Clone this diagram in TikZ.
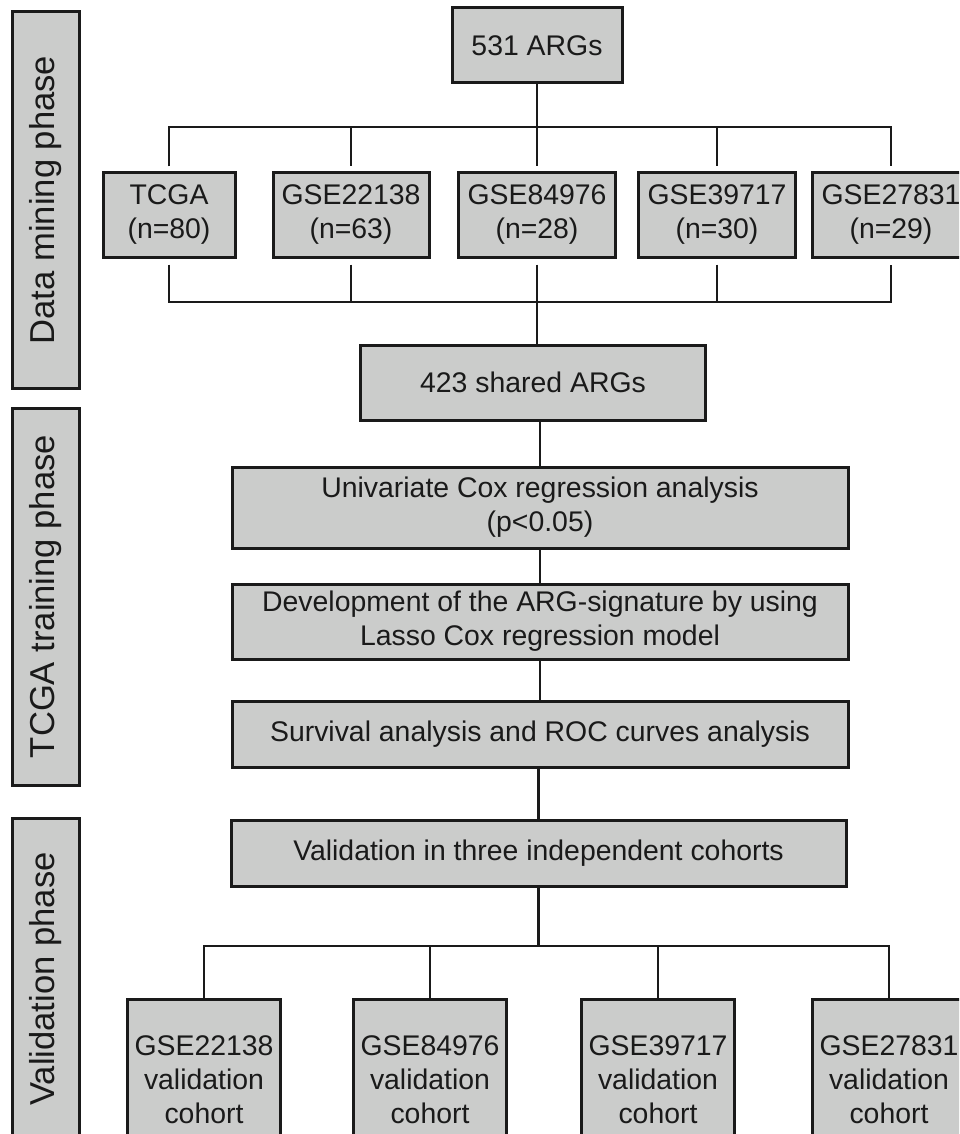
\documentclass[tikz,border=0pt]{standalone}
\usepackage{fontspec}
\setmainfont{Liberation Sans}
\definecolor{boxgray}{RGB}{203,204,203}
\definecolor{inkgray}{RGB}{26,26,26}

\begin{document}
\begin{tikzpicture}[x=0.5pt,y=-0.5pt,
    box/.style={draw=inkgray, line width=1.5pt, fill=boxgray, text=inkgray,
      align=center, inner sep=0pt, font=\fontsize{14.2}{17}\selectfont},
    phasebar/.style={draw=inkgray, line width=1.5pt, fill=boxgray, text=inkgray,
      rotate=90, inner sep=0pt, minimum height=33.5pt, font=\fontsize{17.3}{20}\selectfont},
    link/.style={draw=inkgray, line width=1.2pt}]
    \useasboundingbox (0,0) rectangle (959,1134);
    \clip (0,0) rectangle (959,1134);

    % phase bars on the left
    \node[phasebar, minimum width=188pt] (mining) at (45.5,200) {Data mining phase};
    \node[phasebar, minimum width=188.5pt] (training) at (45.5,596.5) {TCGA training phase};
    \node[phasebar, minimum width=161pt] (validating) at (45.5,979) {Validation phase};

    % data mining phase
    \node[box, minimum width=85pt, minimum height=37.5pt] (n531) at (537,45.5) {531 ARGs};
    \node[box, minimum width=66pt, minimum height=42pt] (tcga) at (169,215) {TCGA\\(n=80)};
    \node[box, minimum width=78pt, minimum height=42pt] (g22138) at (351,215) {GSE22138\\(n=63)};
    \node[box, minimum width=78.5pt, minimum height=42pt] (g84976) at (537,215) {GSE84976\\(n=28)};
    \node[box, minimum width=78.5pt, minimum height=42pt] (g39717) at (717,215) {GSE39717\\(n=30)};
    \node[box, minimum width=78.5pt, minimum height=42pt] (g27831) at (891,215) {GSE27831\\(n=29)};
    \node[box, minimum width=172.5pt, minimum height=37.5pt] (n423) at (533,382.5) {423 shared ARGs};

    \coordinate (topbus) at (0,127);
    \coordinate (midbus) at (0,302);
    \draw[link] (n531) -- (n531 |- topbus);
    \draw[link, shorten <=2.5pt, shorten >=2.5pt] (tcga.north) -- (tcga |- topbus)
      -- (g27831 |- topbus) -- (g27831.north);
    \foreach \n in {g22138,g84976,g39717}
      \draw[link, shorten >=2.5pt] (\n |- topbus) -- (\n.north);
    \draw[link, shorten <=3pt, shorten >=3pt] (tcga.south) -- (tcga |- midbus)
      -- (g27831 |- midbus) -- (g27831.south);
    \foreach \n in {g22138,g39717}
      \draw[link, shorten <=3pt] (\n.south) -- (\n |- midbus);
    \draw[link, shorten <=3pt] (g84976.south) -- (g84976.south |- n423.north);

    % TCGA training phase
    \node[box, minimum width=308pt, minimum height=40.5pt] (unicox) at (540,507.5)
      {Univariate Cox regression analysis\\(p<0.05)};
    \node[box, minimum width=308pt, minimum height=37.5pt] (lasso) at (540,621.5)
      {Development of the ARG-signature by using\\Lasso Cox regression model};
    \node[box, minimum width=308pt, minimum height=33pt] (survival) at (540,734.5)
      {Survival analysis and ROC curves analysis};

    \draw[link] (unicox.north) -- (unicox.north |- n423.south);
    \draw[link] (unicox) -- (lasso);
    \draw[link] (lasso) -- (survival);

    % validation phase
    \node[box, minimum width=307.5pt, minimum height=33pt] (valid) at (538.5,853)
      {Validation in three independent cohorts};
    \node[box, minimum width=76.5pt, minimum height=80.5pt] (v22138) at (204,1079.5)
      {GSE22138\\validation\\cohort};
    \node[box, minimum width=76.5pt, minimum height=80.5pt] (v84976) at (430,1079.5)
      {GSE84976\\validation\\cohort};
    \node[box, minimum width=76.5pt, minimum height=80.5pt] (v39717) at (658,1079.5)
      {GSE39717\\validation\\cohort};
    \node[box, minimum width=76.5pt, minimum height=80.5pt] (v27831) at (889,1079.5)
      {GSE27831\\validation\\cohort};

    \coordinate (valbus) at (0,946);
    \draw[link] (valid.north) -- (valid.north |- survival.south);
    \draw[link] (valid.south) -- (valid.south |- valbus);
    \draw[link] (v22138.north) -- (v22138 |- valbus) -- (v27831 |- valbus) -- (v27831.north);
    \foreach \n in {v84976,v39717}
      \draw[link] (\n |- valbus) -- (\n.north);
\end{tikzpicture}
\end{document}
